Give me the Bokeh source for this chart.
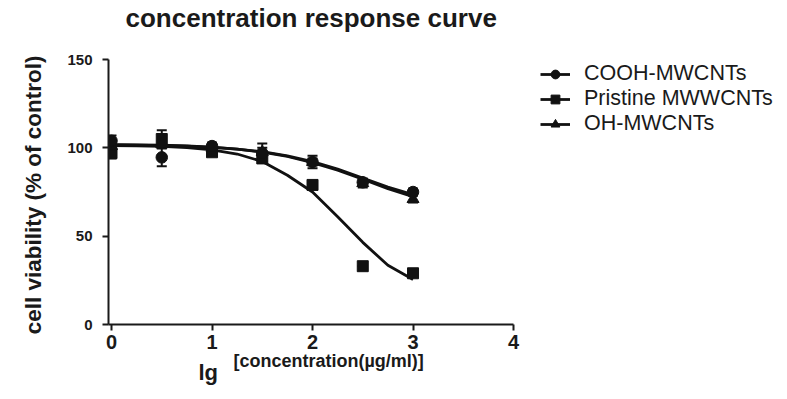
from bokeh.plotting import figure
from bokeh.models import (ColumnDataSource, Range1d, Legend, LegendItem, Title,
                          Whisker, TeeHead, FixedTicker)
from bokeh.embed import file_html
from bokeh.resources import INLINE

# ---- data ----
lg_conc = [0, 0.5, 1, 1.5, 2, 2.5, 3]
cooh = [104.0, 94.6, 101.0, 97.0, 92.0, 80.5, 75.0]
cooh_err = [3.0, 5.0, 2.0, 3.0, 2.0, 2.0, 2.0]
pristine = [97.0, 105.0, 97.5, 94.0, 79.0, 33.0, 29.0]
pristine_err = [3.0, 5.0, 2.0, 2.0, 0.0, 0.0, 0.0]
oh = [101.0, 102.0, 100.0, 97.5, 92.0, 80.0, 71.0]
oh_err = [2.0, 2.0, 2.0, 5.0, 3.5, 2.5, 2.0]

fit_x = [0, 0.25, 0.5, 0.75, 1, 1.25, 1.5, 1.75, 2, 2.25, 2.5, 2.75, 3]
cooh_fit = [101.6, 101.5, 101.3, 100.9, 100.3, 99.3, 97.8, 95.5, 92.2, 88.0, 82.9, 77.8, 73.6]
oh_fit = [101.8, 101.7, 101.5, 101.1, 100.4, 99.3, 97.6, 95.1, 91.6, 87.3, 82.2, 76.9, 72.4]
pristine_fit = [101.3, 101.1, 100.8, 100.1, 98.8, 96.5, 92.3, 84.5, 75.0, 61.0, 46.5, 33.5, 25.5]

x_ticks = [0, 1, 2, 3, 4]
y_ticks = [0, 50, 100, 150]
series_names = ["COOH-MWCNTs", "Pristine MWWCNTs", "OH-MWCNTs"]

FONT = "Liberation Sans"
INK = "#1a1a1a"
C = "#111111"

# frame covers the plot plus the legend area; axis lines limited by bounds
p = figure(output_backend="svg", toolbar_location=None,
           x_range=Range1d(-0.03, 6.726), y_range=Range1d(0, 163.02),
           frame_width=679, frame_height=288,
           min_border_left=108, min_border_top=36, min_border_right=0, min_border_bottom=75)
p.outline_line_color = None
p.grid.visible = False
p.background_fill_color = "white"
p.border_fill_color = "white"

p.title.text = "concentration response curve"
p.title.text_font = FONT
p.title.text_font_size = "26px"
p.title.text_font_style = "bold"
p.title.align = "left"
p.title.offset = 17
p.title.vertical_align = "top"
p.title.standoff = 4
p.title.text_color = INK

for ax in (p.xaxis[0], p.yaxis[0]):
    ax.axis_line_width = 2
    ax.axis_line_color = INK
    ax.major_tick_line_width = 2
    ax.major_tick_line_color = INK
    ax.major_tick_out = 6
    ax.major_tick_in = 0
    ax.minor_tick_line_color = None
    ax.major_label_text_font = FONT
    ax.major_label_text_font_style = "bold"
    ax.major_label_text_color = INK

p.xaxis[0].ticker = FixedTicker(ticks=x_ticks)
p.yaxis[0].ticker = FixedTicker(ticks=y_ticks)
p.xaxis[0].bounds = (-0.03, 4)
p.yaxis[0].bounds = (0, 150)
p.xaxis[0].major_label_text_font_size = "20px"
p.yaxis[0].major_label_text_font_size = "15px"
p.xaxis[0].major_label_standoff = 4
p.yaxis[0].major_label_standoff = 10

# y axis title placed in the left panel so it is centred on the 0-150 axis
p.add_layout(Title(text="cell viability (% of control)", align="right", offset=19,
                   vertical_align="middle", standoff=35.5,
                   text_font=FONT, text_font_size="22.5px", text_font_style="bold",
                   text_color=INK), "left")

# x axis label: bracketed unit text, then "lg" (as titles in the bottom panel)
p.add_layout(Title(text="[concentration(\u00b5g/ml)]", align="left", offset=125,
                   vertical_align="top", standoff=-1,
                   text_font=FONT, text_font_size="18px", text_font_style="bold",
                   text_color=INK), "below")
p.add_layout(Title(text="lg", align="left", offset=90, vertical_align="top", standoff=-25,
                   text_font=FONT, text_font_size="22px", text_font_style="bold",
                   text_color=INK), "below")

src = ColumnDataSource(dict(
    x=lg_conc, cooh=cooh, pristine=pristine, oh=oh,
    cooh_lo=[v - e for v, e in zip(cooh, cooh_err)], cooh_hi=[v + e for v, e in zip(cooh, cooh_err)],
    pr_lo=[v - e for v, e in zip(pristine, pristine_err)], pr_hi=[v + e for v, e in zip(pristine, pristine_err)],
    oh_lo=[v - e for v, e in zip(oh, oh_err)], oh_hi=[v + e for v, e in zip(oh, oh_err)],
))
fit_src = ColumnDataSource(dict(x=fit_x, cooh=cooh_fit, oh=oh_fit, pristine=pristine_fit))

l_pr = p.line("x", "pristine", source=fit_src, line_width=2.8, line_color=C)
l_oh = p.line("x", "oh", source=fit_src, line_width=2.8, line_color=C)
l_co = p.line("x", "cooh", source=fit_src, line_width=2.8, line_color=C)

for lo, hi in (("cooh_lo", "cooh_hi"), ("pr_lo", "pr_hi"), ("oh_lo", "oh_hi")):
    p.add_layout(Whisker(source=src, base="x", lower=lo, upper=hi, line_width=2, line_color=C,
                         upper_head=TeeHead(size=10, line_width=2, line_color=C),
                         lower_head=TeeHead(size=10, line_width=2, line_color=C)))

m_pr = p.scatter("x", "pristine", source=src, marker="square", size=11, color=C)
m_oh = p.scatter("x", "oh", source=src, marker="triangle", size=12, color=C)
m_co = p.scatter("x", "cooh", source=src, marker="circle", size=11.5, color=C)

legend = Legend(items=[
    LegendItem(label=series_names[0], renderers=[l_co, m_co]),
    LegendItem(label=series_names[1], renderers=[l_pr, m_pr]),
    LegendItem(label=series_names[2], renderers=[l_oh, m_oh]),
], location=(432, 188))
legend.label_text_font = FONT
legend.label_text_font_size = "21.5px"
legend.label_text_line_height = 1.0
legend.label_text_color = INK
legend.glyph_width = 30
legend.glyph_height = 22
legend.label_height = 22
legend.spacing = 0
legend.label_standoff = 14
legend.padding = 0
legend.margin = 0
legend.border_line_color = None
legend.background_fill_alpha = 0
p.add_layout(legend, "center")

open("out.html", "w").write(file_html(p, INLINE))
